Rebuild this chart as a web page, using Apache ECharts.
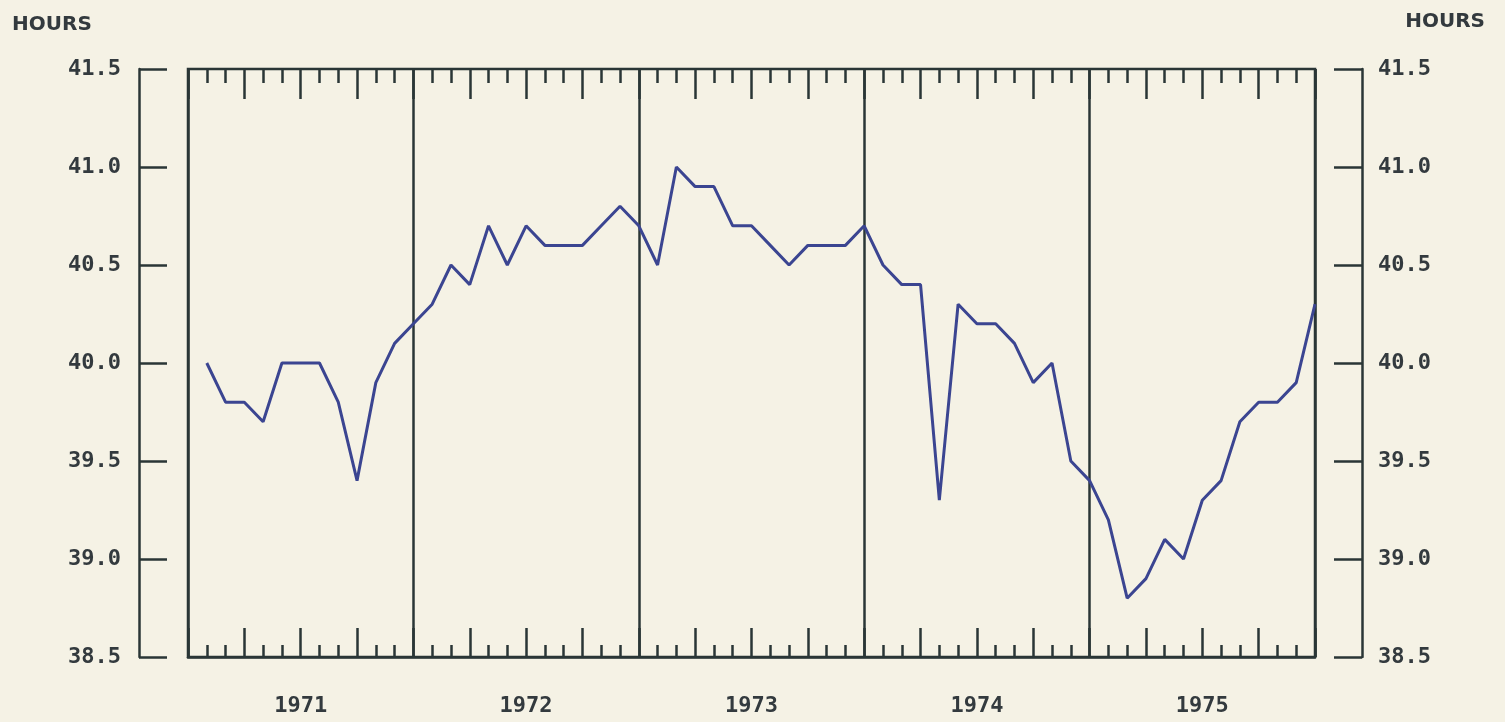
<!DOCTYPE html>
<html>
<head>
<meta charset="utf-8">
<script src="https://cdn.jsdelivr.net/npm/echarts@6/dist/echarts.min.js"></script>
<style>
  html, body { margin: 0; padding: 0; background: #f5f2e5; }
  #container { width: 1505px; height: 722px; }
</style>
</head>
<body>
<div id="container"></div>
<script>
// year labels under the x axis
var years = ['1971', '1972', '1973', '1974', '1975'];

// average weekly hours, one value per month (month-end positions 1..60)
var hours1971 = [40.0, 39.8, 39.8, 39.7, 40.0, 40.0, 40.0, 39.8, 39.4, 39.9, 40.1, 40.2];
var hours1972 = [40.3, 40.5, 40.4, 40.7, 40.5, 40.7, 40.6, 40.6, 40.6, 40.7, 40.8, 40.7];
var hours1973 = [40.5, 41.0, 40.9, 40.9, 40.7, 40.7, 40.6, 40.5, 40.6, 40.6, 40.6, 40.7];
var hours1974 = [40.5, 40.4, 40.4, 39.3, 40.3, 40.2, 40.2, 40.1, 39.9, 40.0, 39.5, 39.4];
var hours1975 = [39.2, 38.8, 38.9, 39.1, 39.0, 39.3, 39.4, 39.7, 39.8, 39.8, 39.9, 40.3];

var yMin = 38.5, yMax = 41.5, yStep = 0.5;

var ink = '#2a3636';
var textInk = '#333a3e';
var lineColor = '#3b4591';
var font = 'DejaVu Sans Mono';

function buildSeriesData(){
    let all = [].concat(hours1971, hours1972, hours1973, hours1974, hours1975);
    let out = [];
    for (let i = 0; i < all.length; i++){
        out.push([i + 1, all[i]]);
    }
    return out;
}

// helper for the extra tick-only x axes
function tickAxis(position, interval, len){
    return {
        type: 'value', position: position, min: 0, max: 60, interval: interval,
        axisLine: {show: false, onZero: false},
        axisTick: {show: true, inside: true, length: len, lineStyle: {color: ink, width: 2.5}},
        axisLabel: {show: false},
        splitLine: {show: false}
    };
}

function yAxis(position, offset){
    return {
        type: 'value', position: position, offset: offset,
        min: yMin, max: yMax, interval: yStep,
        axisLine: {show: true, onZero: false, lineStyle: {color: ink, width: 2.5}},
        axisTick: {show: true, inside: true, length: 28, lineStyle: {color: ink, width: 2.5}},
        axisLabel: {
            show: true, margin: position === 'left' ? 18 : 16,
            color: textInk, fontFamily: font, fontWeight: 'bold', fontSize: 22,
            formatter: function (v) { return v.toFixed(1); }
        },
        splitLine: {show: false}
    };
}

function init(){
    let myChart = echarts.init(document.getElementById('container'));
    let option = {
        backgroundColor: '#f5f2e5',
        animation: false,
        title: [
            {text: 'HOURS', left: 7, top: 10,
             textStyle: {color: textInk, fontFamily: 'DejaVu Sans', fontWeight: 'bold', fontSize: 20}},
            {text: 'HOURS', right: 15, top: 7,
             textStyle: {color: textInk, fontFamily: 'DejaVu Sans', fontWeight: 'bold', fontSize: 20}}
        ],
        grid: {
            left: 188, right: 190, top: 69, bottom: 65,
            show: true, borderColor: ink, borderWidth: 2.5, backgroundColor: 'transparent'
        },
        xAxis: [
            {
                type: 'value', position: 'bottom', min: 0, max: 60, interval: 12,
                axisLine: {show: true, onZero: false, lineStyle: {color: ink, width: 2.5}},
                axisTick: {show: false},
                axisLabel: {show: false},
                splitLine: {show: true, lineStyle: {color: ink, width: 2.5}}
            },
            tickAxis('bottom', 3, 29),
            tickAxis('bottom', 1, 12),
            tickAxis('top', 3, 30),
            tickAxis('top', 1, 14),
            {
                type: 'category', position: 'bottom', data: years, boundaryGap: true,
                axisLine: {show: false, onZero: false},
                axisTick: {show: false},
                axisLabel: {
                    show: true, margin: 38, color: textInk,
                    fontFamily: font, fontWeight: 'bold', fontSize: 22
                },
                splitLine: {show: false}
            }
        ],
        yAxis: [
            yAxis('left', 49),
            yAxis('right', 47)
        ],
        series: [{
            type: 'line',
            xAxisIndex: 0,
            yAxisIndex: 0,
            data: buildSeriesData(),
            showSymbol: false,
            symbol: 'none',
            lineStyle: {color: lineColor, width: 3},
            z: 5
        }]
    };
    myChart.setOption(option, true);
}

init();
</script>
</body>
</html>
